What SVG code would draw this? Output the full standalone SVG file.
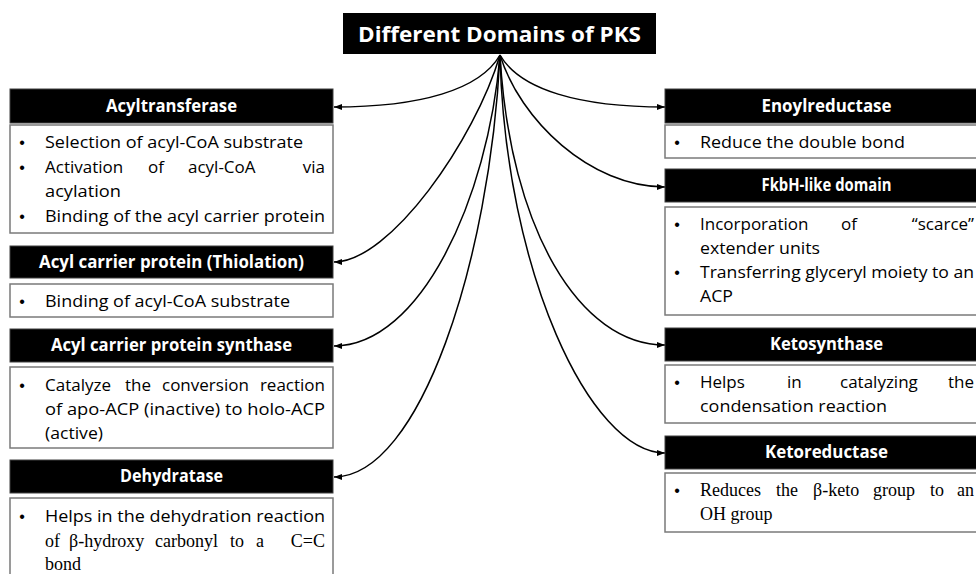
<svg xmlns="http://www.w3.org/2000/svg" width="976" height="574" viewBox="0 0 976 574">
<defs>
<style>
.hdr{fill:#000;stroke:#404040;stroke-width:1}
.body{fill:#fff;stroke:#7a7a7a;stroke-width:1.5}
.ht{font-family:"Open Sans","Liberation Sans",sans-serif;font-weight:bold;font-size:17px;fill:#fff;text-anchor:middle}
.tt{font-family:"Open Sans","Liberation Sans",sans-serif;font-weight:bold;font-size:22px;fill:#fff;text-anchor:middle}
.bt{font-family:"Open Sans","Liberation Sans",sans-serif;font-size:17px;fill:#000}
.st{font-family:"Liberation Serif","Times New Roman",serif;font-size:18px;fill:#000}
.bu{font-family:"Liberation Sans",sans-serif;font-size:16px;fill:#000;text-anchor:middle}
.end{text-anchor:end}
.con{fill:none;stroke:#000;stroke-width:1.5}
</style>
<marker id="ah" viewBox="0 0 8 6" refX="8" refY="3" markerWidth="8" markerHeight="6" markerUnits="userSpaceOnUse" orient="auto">
<path d="M0,0 L8,3 L0,6 z" fill="#000"/>
</marker>
</defs>
<rect width="976" height="574" fill="#fff"/>

<g id="connectors">
<path class="con" marker-end="url(#ah)" d="M500,55 C480,90 420,107 334,107"/>
<path class="con" marker-end="url(#ah)" d="M500,55 C475,140 390,262 334,262"/>
<path class="con" marker-end="url(#ah)" d="M500,55 C488,200 420,346 334,346"/>
<path class="con" marker-end="url(#ah)" d="M500,55 C490,260 420,477 334,477"/>
<path class="con" marker-end="url(#ah)" d="M500,55 C520,90 580,107 665,107"/>
<path class="con" marker-end="url(#ah)" d="M500,55 C520,120 590,187 665,187"/>
<path class="con" marker-end="url(#ah)" d="M500,55 C510,230 580,345 665,345"/>
<path class="con" marker-end="url(#ah)" d="M500,55 C505,270 590,453 665,453"/>
</g>

<g id="title">
<rect x="343" y="13" width="313" height="41" fill="#000"/>
<text class="tt" x="499.5" y="42" textLength="283" lengthAdjust="spacingAndGlyphs">Different Domains of PKS</text>
</g>

<g id="acyltransferase">
<rect class="hdr" x="10" y="89" width="323" height="34"/>
<text class="ht" x="171.5" y="112" textLength="131" lengthAdjust="spacingAndGlyphs">Acyltransferase</text>
<rect class="body" x="10" y="125" width="323" height="108"/>
<text class="bu" x="22" y="148">•</text>
<text class="bt" x="45" y="148" textLength="258" lengthAdjust="spacingAndGlyphs">Selection of acyl-CoA substrate</text>
<text class="bu" x="22" y="173">•</text>
<text class="bt" y="173"><tspan x="45">Activation</tspan><tspan x="148">of</tspan><tspan x="188">acyl-CoA</tspan><tspan x="325" class="end">via</tspan></text>
<text class="bt" x="45" y="197" textLength="76" lengthAdjust="spacingAndGlyphs">acylation</text>
<text class="bu" x="22" y="222">•</text>
<text class="bt" x="45" y="222" textLength="280" lengthAdjust="spacingAndGlyphs">Binding of the acyl carrier protein</text>
</g>

<g id="acp-thiolation">
<rect class="hdr" x="10" y="246" width="323" height="32"/>
<text class="ht" x="171.5" y="268" textLength="265" lengthAdjust="spacingAndGlyphs">Acyl carrier protein (Thiolation)</text>
<rect class="body" x="10" y="284" width="323" height="33"/>
<text class="bu" x="22" y="307">•</text>
<text class="bt" x="45" y="307" textLength="245" lengthAdjust="spacingAndGlyphs">Binding of acyl-CoA substrate</text>
</g>

<g id="acp-synthase">
<rect class="hdr" x="10" y="329" width="323" height="33"/>
<text class="ht" x="171.5" y="351" textLength="241" lengthAdjust="spacingAndGlyphs">Acyl carrier protein synthase</text>
<rect class="body" x="10" y="367" width="323" height="81"/>
<text class="bu" x="22" y="391">•</text>
<text class="bt" y="391"><tspan x="45">Catalyze</tspan><tspan x="125">the</tspan><tspan x="162">conversion</tspan><tspan x="325" class="end">reaction</tspan></text>
<text class="bt" x="45" y="415" textLength="280" lengthAdjust="spacingAndGlyphs">of apo-ACP (inactive) to holo-ACP</text>
<text class="bt" x="45" y="439" textLength="58" lengthAdjust="spacingAndGlyphs">(active)</text>
</g>

<g id="dehydratase">
<rect class="hdr" x="10" y="460" width="323" height="33"/>
<text class="ht" x="171.5" y="482" textLength="103" lengthAdjust="spacingAndGlyphs">Dehydratase</text>
<rect class="body" x="10" y="498" width="323" height="90"/>
<text class="bu" x="22" y="522">•</text>
<text class="bt" x="45" y="522" textLength="280" lengthAdjust="spacingAndGlyphs">Helps in the dehydration reaction</text>
<text class="st" y="547"><tspan x="45">of</tspan><tspan x="69">β-hydroxy</tspan><tspan x="155">carbonyl</tspan><tspan x="230">to</tspan><tspan x="256">a</tspan><tspan x="325" class="end">C=C</tspan></text>
<text class="st" x="45" y="570">bond</text>
</g>

<g id="enoylreductase">
<rect class="hdr" x="665" y="89" width="325" height="34"/>
<text class="ht" x="826.5" y="112" textLength="130" lengthAdjust="spacingAndGlyphs">Enoylreductase</text>
<rect class="body" x="665" y="125" width="325" height="33"/>
<text class="bu" x="677" y="148">•</text>
<text class="bt" x="700" y="148" textLength="205" lengthAdjust="spacingAndGlyphs">Reduce the double bond</text>
</g>

<g id="fkbh">
<rect class="hdr" x="665" y="169" width="325" height="33"/>
<text class="ht" x="826.5" y="191" textLength="130" lengthAdjust="spacingAndGlyphs">FkbH-like domain</text>
<rect class="body" x="665" y="207" width="325" height="108"/>
<text class="bu" x="677" y="230">•</text>
<text class="bt" y="230"><tspan x="700">Incorporation</tspan><tspan x="841">of</tspan><tspan x="974" class="end">“scarce”</tspan></text>
<text class="bt" x="700" y="254" textLength="120" lengthAdjust="spacingAndGlyphs">extender units</text>
<text class="bu" x="677" y="278">•</text>
<text class="bt" x="700" y="278" textLength="274" lengthAdjust="spacingAndGlyphs">Transferring glyceryl moiety to an</text>
<text class="bt" x="700" y="302" textLength="33" lengthAdjust="spacingAndGlyphs">ACP</text>
</g>

<g id="ketosynthase">
<rect class="hdr" x="665" y="328" width="325" height="33"/>
<text class="ht" x="826.5" y="350" textLength="113" lengthAdjust="spacingAndGlyphs">Ketosynthase</text>
<rect class="body" x="665" y="365" width="325" height="58"/>
<text class="bu" x="677" y="388">•</text>
<text class="bt" y="388"><tspan x="700">Helps</tspan><tspan x="787">in</tspan><tspan x="840">catalyzing</tspan><tspan x="974" class="end">the</tspan></text>
<text class="bt" x="700" y="412" textLength="187" lengthAdjust="spacingAndGlyphs">condensation reaction</text>
</g>

<g id="ketoreductase">
<rect class="hdr" x="665" y="436" width="325" height="33"/>
<text class="ht" x="826.5" y="458" textLength="123" lengthAdjust="spacingAndGlyphs">Ketoreductase</text>
<rect class="body" x="665" y="473" width="325" height="59"/>
<text class="bu" x="677" y="496">•</text>
<text class="st" y="496"><tspan x="700">Reduces</tspan><tspan x="776">the</tspan><tspan x="813">β-keto</tspan><tspan x="873">group</tspan><tspan x="930">to</tspan><tspan x="974" class="end">an</tspan></text>
<text class="st" x="700" y="520">OH group</text>
</g>
</svg>
